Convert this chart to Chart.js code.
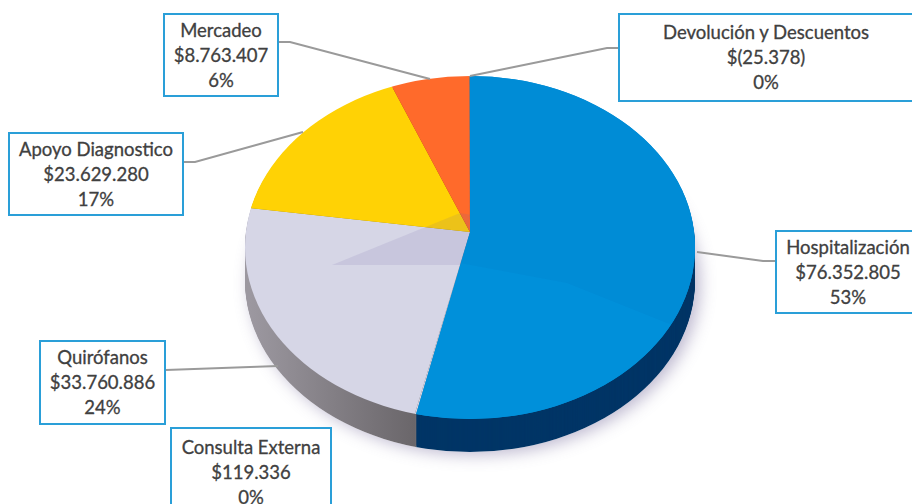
<!DOCTYPE html>
<html lang="es">
<head>
    <meta charset="UTF-8">
    <title>Ingresos por servicio</title>
    <script src="https://cdn.jsdelivr.net/npm/chart.js"></script>
    <style>
        body { margin: 0; background: #fff; overflow: hidden; width: 912px; height: 504px; position: relative; }
        #pie { position: absolute; left: 0; top: 0; }
        .callout {
            position: absolute;
            box-sizing: border-box;
            background: #fff;
            border: 2px solid #2a9fd8;
            display: flex;
            flex-direction: column;
            justify-content: center;
            align-items: center;
            font-family: 'Lato', sans-serif;
            font-size: 18.5px;
            -webkit-text-stroke: 0.3px #404040;
            line-height: 25px;
            color: #404040;
            white-space: nowrap;
        }
    </style>
</head>
<body>
    <canvas id="pie" width="912" height="504"></canvas>
    <div id="labels"></div>

    <script>
        // Data
        const categories = ['Hospitalización', 'Consulta Externa', 'Quirófanos', 'Apoyo Diagnostico', 'Mercadeo', 'Devolución y Descuentos'];
        const values = [76352805, 119336, 33760886, 23629280, 8763407, -25378];
        const valueLabels = ['$76.352.805', '$119.336', '$33.760.886', '$23.629.280', '$8.763.407', '$(25.378)'];
        const percentLabels = ['53%', '0%', '24%', '17%', '6%', '0%'];

        const topColors = ['#0090da', '#d6d6e6', '#d6d6e6', '#ffd205', '#ff6a2b', '#0090da'];
        const sideColors = ['#013566', '#6f6b70', '#8f8b92', '#a08400', '#a04010', '#013566'];

        // Callout boxes: left, top, width, height
        const boxes = [
            [775, 230, 146, 84],
            [170, 427, 162, 90],
            [39, 340, 127, 85],
            [8, 132, 176, 84],
            [163, 13, 116, 84],
            [618, 13, 296, 89]
        ];
        // Leader lines, one per callout (Consulta Externa has none)
        const leaders = [
            [[775, 261], [763, 261], [697, 252]],
            [],
            [[166, 370], [278, 366]],
            [[184, 162], [195, 162], [303, 132]],
            [[279, 42], [290, 42], [430, 79]],
            [[618, 48], [607, 48], [470, 76]]
        ];

        // Shape of the tilted pie
        const tilt = 0.76;
        const rim = { x: 470, y: 247.5, rx: 225, ry: 171.5 };
        const depth = 33;

        function clipRim(ctx, dy) {
            ctx.beginPath();
            ctx.ellipse(rim.x, rim.y + dy, rim.rx, rim.ry, 0, 0, Math.PI * 2);
            ctx.clip();
        }

        function tiltAround(ctx, el) {
            ctx.translate(el.x, el.y);
            ctx.scale(1, tilt);
            ctx.translate(-el.x, -el.y);
        }

        function shape(ctx, points) {
            ctx.beginPath();
            points.forEach((p, i) => i ? ctx.lineTo(p[0], p[1]) : ctx.moveTo(p[0], p[1]));
            ctx.closePath();
            ctx.fill();
        }

        const tiltedPie = {
            id: 'tiltedPie',
            beforeDatasetsDraw(chart) {
                const ctx = chart.ctx;
                const arcs = chart.getDatasetMeta(0).data;

                // soft shadow under the pie
                ctx.save();
                ctx.shadowColor = 'rgba(110, 100, 150, 0.45)';
                ctx.shadowBlur = 16;
                ctx.shadowOffsetX = 5;
                ctx.shadowOffsetY = 3;
                ctx.fillStyle = '#fff';
                ctx.beginPath();
                ctx.ellipse(rim.x, rim.y + depth, rim.rx, rim.ry, 0, 0, Math.PI * 2);
                ctx.fill();
                ctx.restore();

                // side wall: same arcs, pushed down and darker
                const greySide = ctx.createLinearGradient(250, 0, 415, 0);
                greySide.addColorStop(0, '#9c98a0');
                greySide.addColorStop(1, '#6a666a');
                const sideArcs = arcs.map((el, i) => {
                    const side = Object.create(el);
                    side.options = Object.assign({}, el.options, { backgroundColor: i === 2 ? greySide : sideColors[i] });
                    return side;
                });
                for (let d = depth; d > 0; d--) {
                    ctx.save();
                    clipRim(ctx, d);
                    ctx.translate(0, d);
                    tiltAround(ctx, arcs[0]);
                    sideArcs.forEach(a => a.draw(ctx));
                    ctx.restore();
                }

                // top surface
                ctx.save();
                clipRim(ctx, 0);
                ctx.save();
                tiltAround(ctx, arcs[0]);
                arcs.forEach(a => a.draw(ctx));
                ctx.restore();

                // glossy facets on top of the slices
                ctx.fillStyle = 'rgba(105, 95, 165, 0.13)';
                shape(ctx, [[332, 265], [460, 213], [472, 215], [472, 265]]);
                ctx.save();
                tiltAround(ctx, arcs[0]);
                arcs[0].draw(ctx);
                arcs[5].draw(ctx);
                ctx.restore();
                ctx.fillStyle = 'rgba(0, 50, 120, 0.04)';
                shape(ctx, [[470, 232], [460, 263], [567, 283], [667, 323], [730, 340], [730, 60], [470, 60]]);
                ctx.restore();

                return false;
            },
            afterDraw(chart) {
                const ctx = chart.ctx;
                ctx.save();
                ctx.strokeStyle = '#9a9a9a';
                ctx.lineWidth = 2;
                leaders.forEach(line => {
                    ctx.beginPath();
                    line.forEach((p, i) => i ? ctx.lineTo(p[0], p[1]) : ctx.moveTo(p[0], p[1]));
                    ctx.stroke();
                });
                ctx.restore();
            }
        };

        new Chart(document.getElementById('pie'), {
            type: 'pie',
            data: {
                labels: categories,
                datasets: [{
                    data: values,
                    backgroundColor: topColors,
                    borderWidth: 0
                }]
            },
            options: {
                responsive: false,
                animation: false,
                radius: 262,
                // puts the pie apex at 470,232
                layout: { padding: { left: 28, bottom: 40 } },
                plugins: {
                    legend: { display: false },
                    tooltip: { enabled: false }
                }
            },
            plugins: [tiltedPie]
        });

        // Callouts
        const holder = document.getElementById('labels');
        categories.forEach((name, i) => {
            const box = document.createElement('div');
            box.className = 'callout';
            box.style.left = boxes[i][0] + 'px';
            box.style.top = boxes[i][1] + 'px';
            box.style.width = boxes[i][2] + 'px';
            box.style.height = boxes[i][3] + 'px';
            [name, valueLabels[i], percentLabels[i]].forEach(t => {
                const line = document.createElement('div');
                line.textContent = t;
                box.appendChild(line);
            });
            holder.appendChild(box);
        });
    </script>
</body>
</html>
